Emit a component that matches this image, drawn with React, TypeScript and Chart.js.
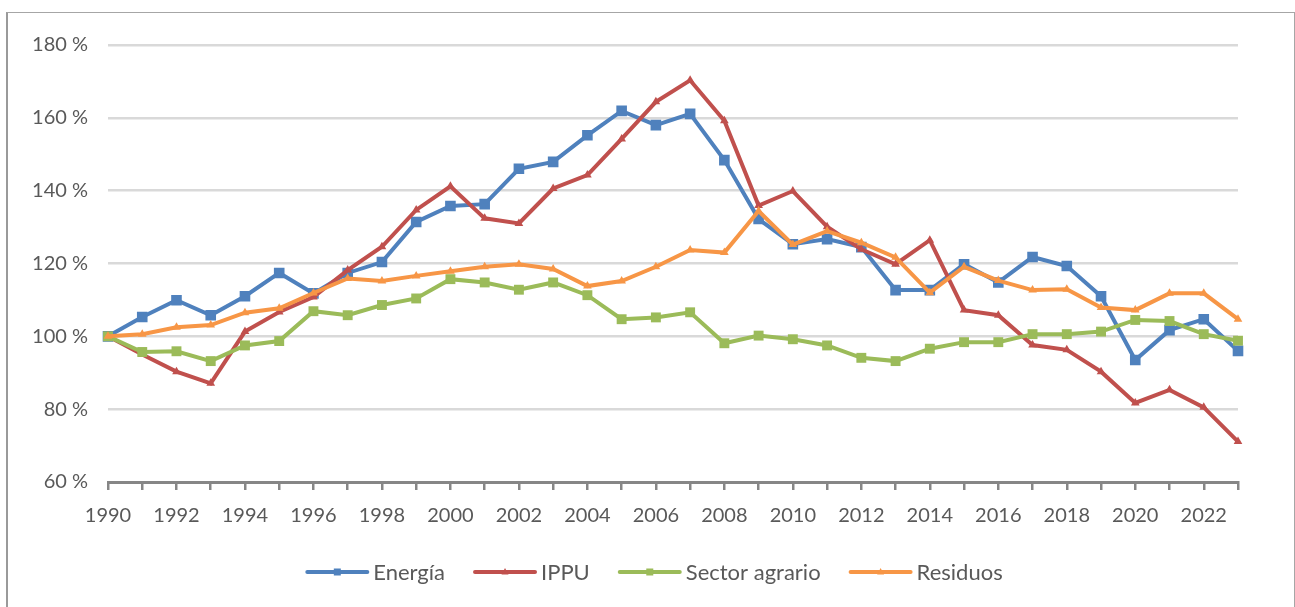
import React, { useEffect, useRef } from 'react';
import { Chart, registerables } from 'chart.js';

Chart.register(...registerables);

const years: string[] = [
  '1990', '1991', '1992', '1993', '1994', '1995', '1996', '1997', '1998', '1999',
  '2000', '2001', '2002', '2003', '2004', '2005', '2006', '2007', '2008', '2009',
  '2010', '2011', '2012', '2013', '2014', '2015', '2016', '2017', '2018', '2019',
  '2020', '2021', '2022', '2023',
];

const energia: number[] = [
  100, 105.3, 109.9, 105.8, 111.0, 117.4, 111.8, 117.4, 120.4, 131.4,
  135.8, 136.3, 146.0, 147.9, 155.2, 161.9, 158.0, 161.1, 148.4, 132.2,
  125.3, 126.7, 124.5, 112.7, 112.7, 119.8, 114.8, 121.8, 119.3, 111.0,
  93.5, 101.7, 104.7, 96.0,
];

const ippu: number[] = [
  100, 95.0, 90.3, 87.1, 101.3, 106.7, 110.8, 118.2, 124.6, 134.7,
  141.2, 132.4, 131.0, 140.6, 144.3, 154.2, 164.4, 170.3, 159.2, 135.9,
  139.9, 130.1, 123.9, 119.8, 126.4, 107.2, 105.8, 97.6, 96.3, 90.3,
  81.7, 85.3, 80.5, 71.1,
];

const agrario: number[] = [
  100, 95.7, 95.9, 93.2, 97.5, 98.7, 106.9, 105.8, 108.6, 110.4,
  115.7, 114.8, 112.8, 114.8, 111.3, 104.7, 105.2, 106.6, 98.1, 100.2,
  99.2, 97.5, 94.1, 93.2, 96.6, 98.4, 98.4, 100.6, 100.6, 101.3,
  104.5, 104.2, 100.6, 98.8,
];

const residuos: number[] = [
  100, 100.6, 102.5, 103.1, 106.5, 107.7, 111.9, 115.9, 115.2, 116.6,
  117.9, 119.1, 119.8, 118.5, 113.8, 115.2, 119.1, 123.7, 123.0, 134.4,
  125.2, 128.9, 125.7, 121.7, 112.0, 119.1, 115.3, 112.7, 112.9, 107.9,
  107.2, 111.8, 111.8, 104.7,
];

const seriesLabels: string[] = ['Energía', 'IPPU', 'Sector agrario', 'Residuos'];

const FONT = 'Lato';
const TEXT = '#595959';

const lineLegend = {
  id: 'lineLegend',
  afterDraw(chart: any) {
    const ctx = chart.ctx as CanvasRenderingContext2D;
    ctx.save();
    ctx.font = `22px ${FONT}`;
    ctx.textBaseline = 'middle';
    ctx.textAlign = 'left';
    const lineW = 60;
    const gapText = 6;
    const gapItem = 30;
    const items = chart.data.datasets.map((ds: any) => ({
      label: ds.label as string,
      color: ds.borderColor as string,
      style: ds.pointStyle as string,
    }));
    const widths = items.map((it: any) => lineW + gapText + ctx.measureText(it.label).width);
    const total = widths.reduce((a: number, b: number) => a + b, 0) + gapItem * (items.length - 1);
    let x = 655 - total / 2;
    const y = 572;
    items.forEach((it: any, i: number) => {
      ctx.strokeStyle = it.color;
      ctx.lineWidth = 4;
      ctx.lineCap = 'round';
      ctx.beginPath();
      ctx.moveTo(x, y);
      ctx.lineTo(x + lineW, y);
      ctx.stroke();
      ctx.fillStyle = it.color;
      const cx = x + lineW / 2;
      if (it.style === 'rect') {
        ctx.fillRect(cx - 3.5, y - 3.5, 7, 7);
      } else {
        ctx.beginPath();
        ctx.moveTo(cx, y - 4);
        ctx.lineTo(cx + 3.5, y + 2.5);
        ctx.lineTo(cx - 3.5, y + 2.5);
        ctx.closePath();
        ctx.fill();
      }
      ctx.fillStyle = TEXT;
      ctx.fillText(it.label, x + lineW + gapText, y + 1);
      x += widths[i] + gapItem;
    });
    ctx.restore();
  },
};

export default function App() {
  const ref = useRef<HTMLCanvasElement | null>(null);

  useEffect(() => {
    if (!ref.current) return;
    const mk = (label: string, data: number[], color: string, style: string, r: number, order: number) => ({
      label,
      data,
      borderColor: color,
      backgroundColor: color,
      pointBackgroundColor: color,
      pointBorderColor: color,
      pointBorderWidth: 0,
      pointStyle: style,
      pointRadius: r,
      borderWidth: 4,
      tension: 0,
      order,
    });
    const chart = new Chart(ref.current, {
      type: 'line',
      data: {
        labels: years,
        datasets: [
          mk(seriesLabels[0], energia, '#4f81bd', 'rect', 7.5, 4),
          mk(seriesLabels[1], ippu, '#c0504d', 'triangle', 5, 3),
          mk(seriesLabels[2], agrario, '#9bbb59', 'rect', 7, 2),
          mk(seriesLabels[3], residuos, '#f79646', 'triangle', 5, 1),
        ] as any,
      },
      options: {
        responsive: false,
        animation: false,
        layout: { padding: { left: 0, top: 45, right: 57, bottom: 0 } },
        plugins: {
          legend: { display: false },
          tooltip: { enabled: false },
        },
        scales: {
          x: {
            type: 'category',
            offset: false,
            afterFit: (s: any) => { s.height = 125; },
            border: { display: true, color: '#868686', width: 3 },
            grid: { drawOnChartArea: false, drawTicks: true, tickLength: 8, color: '#868686', lineWidth: 2.5 },
            ticks: {
              autoSkip: false,
              maxRotation: 0,
              padding: 14,
              color: TEXT,
              font: { family: FONT, size: 20 },
              callback: function (this: any, val: any, idx: number) {
                return idx % 2 === 0 ? this.getLabelForValue(val) : '';
              },
            },
          },
          y: {
            min: 60,
            max: 180,
            afterFit: (s: any) => { s.width = 108; },
            border: { display: false },
            grid: { color: '#d9d9d9', lineWidth: 2.5, drawTicks: false },
            ticks: {
              stepSize: 20,
              padding: 20,
              color: TEXT,
              font: { family: FONT, size: 20 },
              callback: (v: any) => `${v} %`,
            },
          },
        },
      },
      plugins: [lineLegend],
    } as any);
    return () => chart.destroy();
  }, []);

  return (
    <div style={{ position: 'absolute', left: 0, top: 0, width: 1295, height: 607, overflow: 'hidden', background: '#fff' }}>
      <div
        style={{
          position: 'absolute', left: 6, top: 12, width: 1289, height: 640, boxSizing: 'border-box',
          borderLeft: '2px solid #9a9a9a', borderTop: '1px solid #a6a6a6', borderRight: '1px solid #a6a6a6',
        }}
      />
      <canvas ref={ref} width={1295} height={607} style={{ position: 'absolute', left: 0, top: 0 }} />
    </div>
  );
}
